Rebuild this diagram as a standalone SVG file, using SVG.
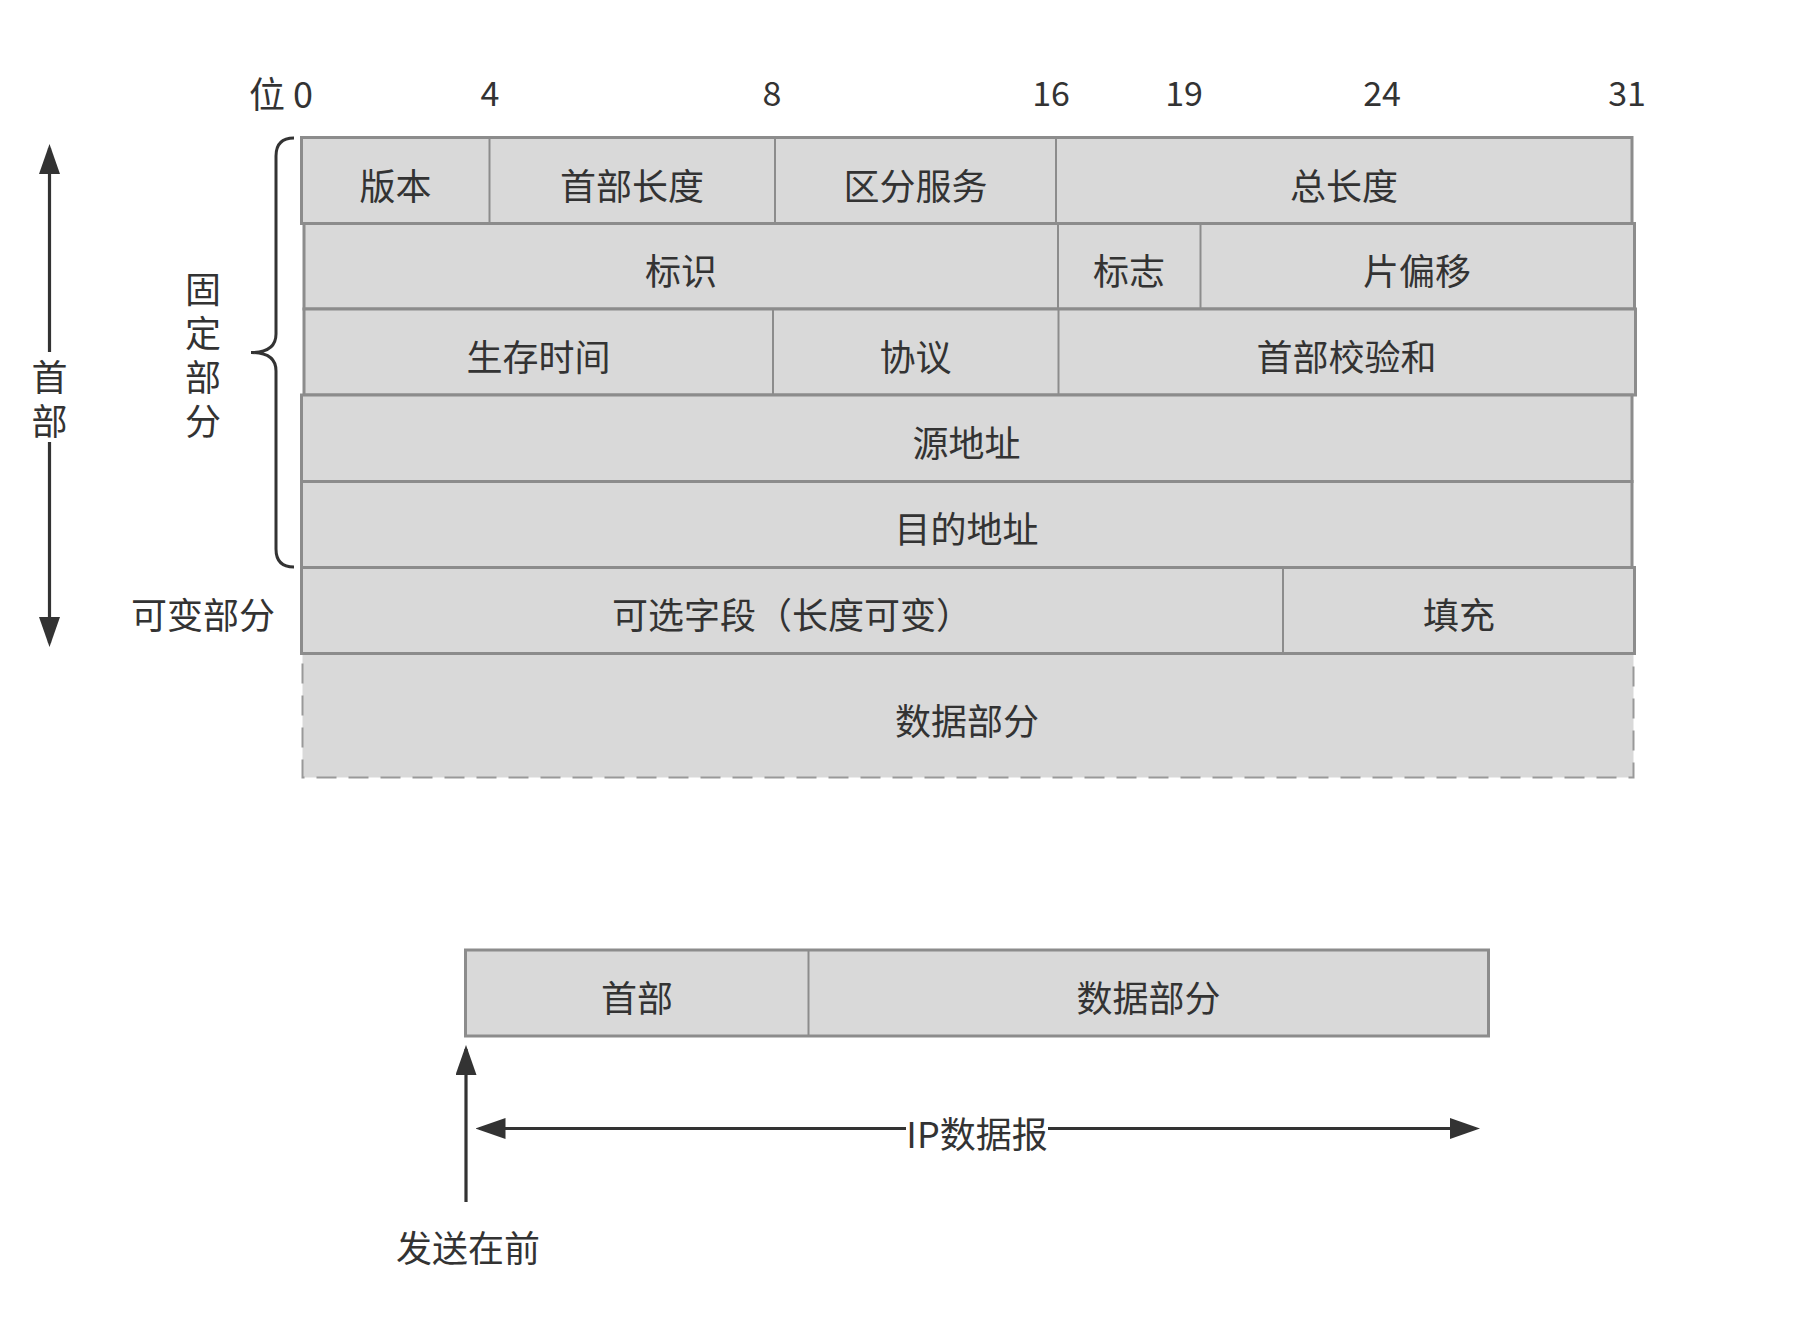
<svg xmlns="http://www.w3.org/2000/svg" width="1798" height="1332" viewBox="0 0 1798 1332">
<style>
text { font-family: "Noto Sans CJK SC", "Noto Sans", sans-serif; font-size: 36px; fill: #333333; }
.c { text-anchor: middle; dominant-baseline: central; }
.v { writing-mode: vertical-rl; text-anchor: middle; letter-spacing: 8px; }
.num { font-size: 34px; }
.row { fill: #d9d9d9; stroke: #8c8c8c; stroke-width: 3; }
.div { stroke: #8c8c8c; stroke-width: 2; fill: none; }
.dash { fill: #d9d9d9; stroke: #999999; stroke-width: 2; stroke-dasharray: 20 12; }
.ln { stroke: #333333; stroke-width: 3.2; fill: none; }
.brace { stroke: #333333; stroke-width: 3; fill: none; }
</style>
<defs>
<marker id="ah" viewBox="0 0 30 21" refX="26" refY="10.5" markerWidth="30" markerHeight="21" markerUnits="userSpaceOnUse" orient="auto-start-reverse">
<path d="M0,0 L30,10.5 L0,21 Z" fill="#333333"/>
</marker>
</defs>
<rect x="0" y="0" width="1798" height="1332" fill="#ffffff"/>

<g id="bit-labels">
<text x="249" y="91.5" style="dominant-baseline: central">位 0</text>
<text class="c num" x="490" y="91.5">4</text>
<text class="c num" x="772" y="91.5">8</text>
<text class="c num" x="1051" y="91.5">16</text>
<text class="c num" x="1184" y="91.5">19</text>
<text class="c num" x="1382" y="91.5">24</text>
<text class="c num" x="1627" y="91.5">31</text>
</g>

<g id="row1">
<rect class="row" x="301.5" y="137.5" width="1330.5" height="86"/>
<line class="div" x1="489.5" y1="137.5" x2="489.5" y2="223.5"/>
<line class="div" x1="775" y1="137.5" x2="775" y2="223.5"/>
<line class="div" x1="1056" y1="137.5" x2="1056" y2="223.5"/>
<text class="c" x="395.5" y="183.5">版本</text>
<text class="c" x="632" y="183.5">首部长度</text>
<text class="c" x="915.5" y="183.5">区分服务</text>
<text class="c" x="1344" y="183.5">总长度</text>
</g>

<g id="row2">
<rect class="row" x="304" y="223.5" width="1330.5" height="85.5"/>
<line class="div" x1="1058" y1="223.5" x2="1058" y2="309"/>
<line class="div" x1="1200.5" y1="223.5" x2="1200.5" y2="309"/>
<text class="c" x="681" y="269">标识</text>
<text class="c" x="1129" y="269">标志</text>
<text class="c" x="1417" y="269">片偏移</text>
</g>

<g id="row3">
<rect class="row" x="304" y="309" width="1331.5" height="86"/>
<line class="div" x1="773" y1="309" x2="773" y2="395"/>
<line class="div" x1="1058.5" y1="309" x2="1058.5" y2="395"/>
<text class="c" x="538.5" y="355">生存时间</text>
<text class="c" x="915.5" y="355">协议</text>
<text class="c" x="1346.5" y="355">首部校验和</text>
</g>

<g id="row4">
<rect class="row" x="301.5" y="395" width="1330.5" height="86.5"/>
<text class="c" x="966.5" y="441">源地址</text>
</g>

<g id="row5">
<rect class="row" x="301.5" y="481.5" width="1330.5" height="86"/>
<text class="c" x="966.5" y="527">目的地址</text>
</g>

<g id="data-part">
<rect class="dash" x="302.5" y="653.5" width="1331" height="124"/>
<text class="c" x="967" y="718.5">数据部分</text>
</g>

<g id="row6">
<rect class="row" x="301.5" y="567.5" width="1333" height="86"/>
<line class="div" x1="1283" y1="567.5" x2="1283" y2="653.5"/>
<text class="c" x="792" y="613">可选字段（长度可变）</text>
<text class="c" x="1459" y="613">填充</text>
</g>

<g id="fixed-brace">
<path class="brace" d="M294,138 Q276,138 276,156 L276,334 Q276,352.5 251,352.5 Q276,352.5 276,371 L276,549 Q276,567 294,567"/>
<text class="v" x="203" y="359">固定部分</text>
</g>

<g id="variable-label">
<text class="c" x="203" y="613">可变部分</text>
</g>

<g id="datagram">
<rect class="row" x="465.5" y="950" width="1023" height="86"/>
<line class="div" x1="808.5" y1="950" x2="808.5" y2="1036"/>
<text class="c" x="637" y="995.5">首部</text>
<text class="c" x="1148.5" y="995.5">数据部分</text>
</g>

<g id="connectors">
<line class="ln" x1="49.5" y1="148" x2="49.5" y2="643" marker-start="url(#ah)" marker-end="url(#ah)"/>
<rect x="30" y="352" width="40" height="90" fill="#ffffff"/>
<text class="v" x="49.5" y="403">首部</text>

<line class="ln" x1="466" y1="1202" x2="466" y2="1049" marker-end="url(#ah)"/>

<line class="ln" x1="479.5" y1="1128.5" x2="1476" y2="1128.5" marker-start="url(#ah)" marker-end="url(#ah)"/>
<rect x="906" y="1108" width="142" height="42" fill="#ffffff"/>
<text class="c" x="977" y="1132">IP数据报</text>
</g>

<g id="send-first">
<text class="c" x="468" y="1246">发送在前</text>
</g>
</svg>
